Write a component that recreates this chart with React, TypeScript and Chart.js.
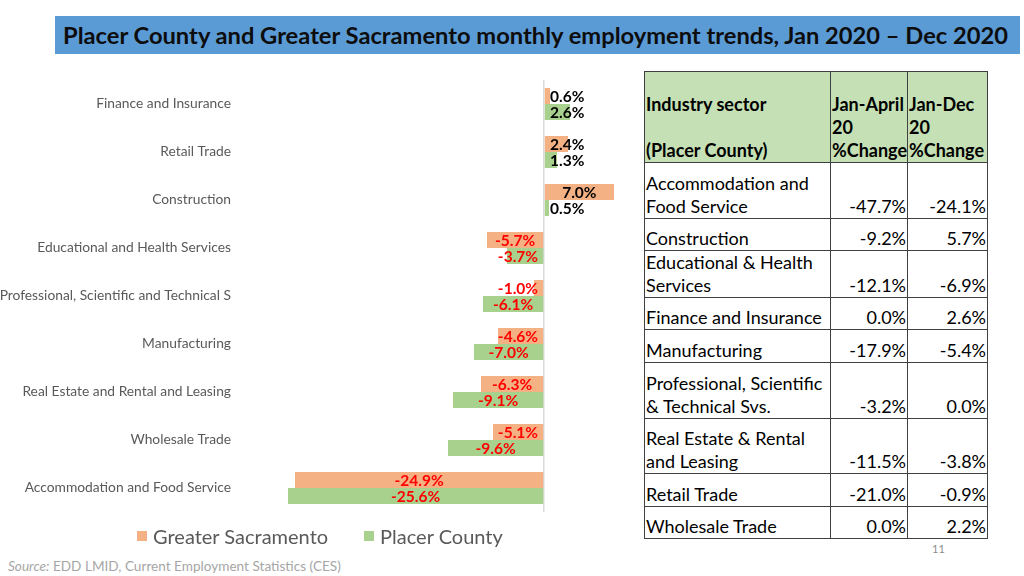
import React, { useEffect, useRef } from "react";
import { Chart, registerables } from "chart.js";

Chart.register(...registerables);

const categories = [
  "Finance and Insurance",
  "Retail Trade",
  "Construction",
  "Educational and Health Services",
  "Professional, Scientific and Technical S",
  "Manufacturing",
  "Real Estate and Rental and Leasing",
  "Wholesale Trade",
  "Accommodation and Food Service",
];
const greaterSacramento = [0.6, 2.4, 7.0, -5.7, -1.0, -4.6, -6.3, -5.1, -24.9];
const placerCounty = [2.6, 1.3, 0.5, -3.7, -6.1, -7.0, -9.1, -9.6, -25.6];
const seriesNames = ["Greater Sacramento", "Placer County"];
const seriesColors = ["#F4B183", "#A9D18E"];

const tableHeaders = ["Industry sector\n\n(Placer County)", "Jan-April\n20\n%Change", "Jan-Dec\n20\n%Change"];
const tableSectors = [
  "Accommodation and\nFood Service",
  "Construction",
  "Educational & Health\nServices",
  "Finance and Insurance",
  "Manufacturing",
  "Professional, Scientific\n& Technical Svs.",
  "Real Estate & Rental\nand Leasing",
  "Retail Trade",
  "Wholesale Trade",
];
const tableJanApr = ["-47.7%", "-9.2%", "-12.1%", "0.0%", "-17.9%", "-3.2%", "-11.5%", "-21.0%", "0.0%"];
const tableJanDec = ["-24.1%", "5.7%", "-6.9%", "2.6%", "-5.4%", "0.0%", "-3.8%", "-0.9%", "2.2%"];
const tableRowHeights = [56, 32, 47, 32, 33, 56, 55, 33, 32];

const FONT = "Lato, 'Open Sans', sans-serif";

const labelPlugin = {
  id: "barLabels",
  afterDatasetsDraw(chart: any) {
    const ctx = chart.ctx;
    const zero = chart.scales.x.getPixelForValue(0);
    ctx.save();
    ctx.font = `bold 15.5px ${FONT}`;
    ctx.textAlign = "center";
    ctx.textBaseline = "middle";
    chart.data.datasets.forEach((ds: any, di: number) => {
      const meta = chart.getDatasetMeta(di);
      meta.data.forEach((bar: any, i: number) => {
        const v = ds.data[i];
        const text = v.toFixed(1) + "%";
        const w = ctx.measureText(text).width;
        let cx = (bar.x + bar.base) / 2;
        if (v >= 0) cx = Math.max(cx, zero + 6 + w / 2);
        else cx = Math.min(cx, zero - 6 - w / 2);
        ctx.fillStyle = v < 0 ? "#FF0000" : "#000000";
        ctx.fillText(text, cx, bar.y + 1);
      });
    });
    ctx.restore();
  },
};

export default function App() {
  const ref = useRef<HTMLCanvasElement>(null);

  useEffect(() => {
    if (!ref.current) return;
    const chart = new Chart(ref.current, {
      type: "bar",
      data: {
        labels: categories,
        datasets: [
          { label: seriesNames[0], data: greaterSacramento, backgroundColor: seriesColors[0], categoryPercentage: 0.667, barPercentage: 1 },
          { label: seriesNames[1], data: placerCounty, backgroundColor: seriesColors[1], categoryPercentage: 0.667, barPercentage: 1 },
        ],
      },
      options: {
        indexAxis: "y",
        responsive: false,
        animation: false,
        devicePixelRatio: 1,
        layout: { padding: { top: 20, bottom: 18, right: 6, left: 0 } },
        plugins: { legend: { display: false }, tooltip: { enabled: false } },
        scales: {
          x: {
            min: -31,
            max: 9,
            ticks: { display: false, stepSize: 1 },
            border: { display: false },
            grid: {
              drawTicks: false,
              lineWidth: 1.5,
              color: (c: any) => (c.tick && c.tick.value === 0 ? "#D9D9D9" : "rgba(0,0,0,0)"),
            },
            afterFit: (s: any) => { s.height = 0; },
          },
          y: {
            ticks: { color: "#595959", font: { family: FONT, size: 13.8 }, padding: 3 },
            grid: { display: false, drawTicks: false },
            border: { display: false },
            afterFit: (s: any) => { s.width = 234; },
          },
        },
      },
      plugins: [labelPlugin],
    });
    return () => chart.destroy();
  }, []);

  const border = "1.5px solid #404040";
  const cellBase: React.CSSProperties = {
    border,
    verticalAlign: "bottom",
    padding: "0 1px 0 1px",
    lineHeight: "23px",
    whiteSpace: "pre-line",
    fontFamily: FONT,
    fontSize: 18,
    color: "#000",
  };

  return (
    <div style={{ position: "absolute", left: 0, top: 0, width: 1024, height: 576, background: "#fff", overflow: "hidden", fontFamily: FONT }}>
      <div style={{ position: "absolute", left: 55, top: 16, width: 965, height: 38, background: "#5B9BD5", color: "#0D0D0D", fontWeight: 700, fontSize: 23.7, lineHeight: "38px", paddingLeft: 8, boxSizing: "border-box", whiteSpace: "nowrap" }}>
        Placer County and Greater Sacramento monthly employment trends, Jan 2020 – Dec 2020
      </div>
      <canvas ref={ref} width={640} height={470} style={{ position: "absolute", left: 0, top: 60, width: 640, height: 470 }} />
      <div style={{ position: "absolute", left: 137, top: 522, display: "flex", alignItems: "center", fontSize: 20, color: "#595959", whiteSpace: "nowrap" }}>
        {seriesNames.map((n, i) => (
          <div key={n} style={{ display: "flex", alignItems: "center", marginRight: 36 }}>
            <span style={{ display: "inline-block", width: 10, height: 10, background: seriesColors[i], marginRight: 6 }} />
            <span style={{ lineHeight: "28px" }}>{n}</span>
          </div>
        ))}
      </div>
      <table style={{ position: "absolute", left: 644, top: 71, borderCollapse: "collapse", tableLayout: "fixed", width: 343 }}>
        <colgroup>
          <col style={{ width: 186 }} />
          <col style={{ width: 77 }} />
          <col style={{ width: 80 }} />
        </colgroup>
        <thead>
          <tr style={{ height: 91 }}>
            {tableHeaders.map((h, i) => (
              <th key={i} style={{ ...cellBase, background: "#C5E0B4", fontWeight: 700, fontSize: 18, textAlign: "left" }}>{h}</th>
            ))}
          </tr>
        </thead>
        <tbody>
          {tableSectors.map((s, i) => (
            <tr key={i} style={{ height: tableRowHeights[i] }}>
              <td style={{ ...cellBase, textAlign: "left" }}>{s}</td>
              <td style={{ ...cellBase, textAlign: "right" }}>{tableJanApr[i]}</td>
              <td style={{ ...cellBase, textAlign: "right" }}>{tableJanDec[i]}</td>
            </tr>
          ))}
        </tbody>
      </table>
      <div style={{ position: "absolute", left: 932, top: 542, fontSize: 11, color: "#8C8C8C" }}>11</div>
      <div style={{ position: "absolute", left: 8, top: 558, fontSize: 13.6, color: "#A6A6A6", whiteSpace: "nowrap" }}>
        <i>Source:</i> EDD LMID, Current Employment Statistics (CES)
      </div>
    </div>
  );
}
